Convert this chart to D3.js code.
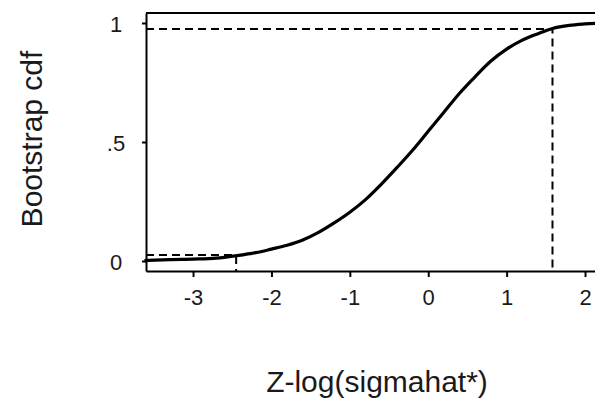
<!DOCTYPE html>
<html>
<head>
<meta charset="utf-8">
<script src="https://cdn.jsdelivr.net/npm/d3@7"></script>
<style>
  html, body { margin: 0; padding: 0; background: #fff; }
  svg { display: block; font-family: "Liberation Sans", Arial, sans-serif; }
</style>
</head>
<body>
<svg id="chart" width="595" height="401"></svg>
<script>
// Bootstrap empirical cdf of Z-log(sigmahat*)
const zValues = [-3.62, -3.3, -3.0, -2.7, -2.45, -2.2, -2.0, -1.8, -1.6, -1.4, -1.2, -1.0,
                 -0.8, -0.6, -0.4, -0.2, 0.0, 0.2, 0.4, 0.6, 0.8, 1.0, 1.2, 1.4, 1.585, 1.8, 2.0, 2.2];
const cdfValues = [0.002, 0.006, 0.008, 0.012, 0.022, 0.035, 0.05, 0.066, 0.088, 0.12, 0.16, 0.205,
                   0.258, 0.322, 0.392, 0.465, 0.545, 0.625, 0.705, 0.775, 0.84, 0.89, 0.928, 0.955, 0.977, 0.99, 0.996, 1.0];

// 2.5% and 97.5% bootstrap quantiles
const quantileZ = [-2.45, 1.585];
const quantileP = [0.025, 0.975];

const xTicks = [-3, -2, -1, 0, 1, 2];
const yTicks = [0, 0.5, 1];
const yTickLabels = ["0", ".5", "1"];
const xTitle = "Z-log(sigmahat*)";
const yTitle = "Bootstrap cdf";

const svg = d3.select("#chart");
const plotLeft = 146, plotRight = 600.7, plotTop = 13, plotBottom = 271;

const x = d3.scaleLinear().domain([-3.6, 2.2]).range([plotLeft, plotRight]);
const y = d3.scaleLinear().domain([-0.042, 1.042]).range([plotBottom, plotTop]);

// axes (plain hyphen for negative labels)
const xAxis = d3.axisBottom(x).tickValues(xTicks).tickSize(6).tickSizeOuter(0).tickPadding(12)
  .tickFormat(d => String(d));
const yAxis = d3.axisLeft(y).tickValues(yTicks).tickSize(4).tickSizeOuter(0)
  .tickFormat((d, i) => yTickLabels[i]);

const gx = svg.append("g").attr("transform", `translate(0,${plotBottom})`).call(xAxis);
const gy = svg.append("g").attr("transform", `translate(${plotLeft},0)`).call(yAxis);

[gx, gy].forEach(g => {
  g.select(".domain").attr("stroke", "#000").attr("stroke-width", 2);
  g.selectAll(".tick line").attr("stroke", "#000").attr("stroke-width", 2);
  g.selectAll(".tick text").attr("fill", "#1a1a1a").attr("font-size", 22);
});
gx.selectAll(".tick text").attr("dy", "0.71em");
gy.selectAll(".tick text").attr("text-anchor", "middle").attr("x", -30).attr("dy", "0.4em");

// top frame line
svg.append("line")
  .attr("x1", x(-3.6)).attr("x2", plotRight)
  .attr("y1", y(1.042)).attr("y2", y(1.042))
  .attr("stroke", "#000").attr("stroke-width", 2);

// dashed reference lines at the quantiles
quantileZ.forEach((q, i) => {
  const p = quantileP[i];
  svg.append("path")
    .attr("d", `M${x(-3.6)},${y(p)}H${x(q)}V${plotBottom}`)
    .attr("fill", "none").attr("stroke", "#000").attr("stroke-width", 2)
    .attr("stroke-dasharray", "8,5");
});

// cdf curve
const data = zValues.map((z, i) => ({ z, p: cdfValues[i] }));
svg.append("path")
  .datum(data)
  .attr("d", d3.line().x(d => x(d.z)).y(d => y(d.p)).curve(d3.curveMonotoneX))
  .attr("fill", "none").attr("stroke", "#000").attr("stroke-width", 3.2);

// axis titles
svg.append("text")
  .attr("x", 377).attr("y", 392)
  .attr("text-anchor", "middle").attr("font-size", 30).attr("fill", "#1a1a1a")
  .text(xTitle);
svg.append("text")
  .attr("transform", "translate(42,139) rotate(-90)")
  .attr("text-anchor", "middle").attr("font-size", 30).attr("fill", "#1a1a1a")
  .text(yTitle);
</script>
</body>
</html>
